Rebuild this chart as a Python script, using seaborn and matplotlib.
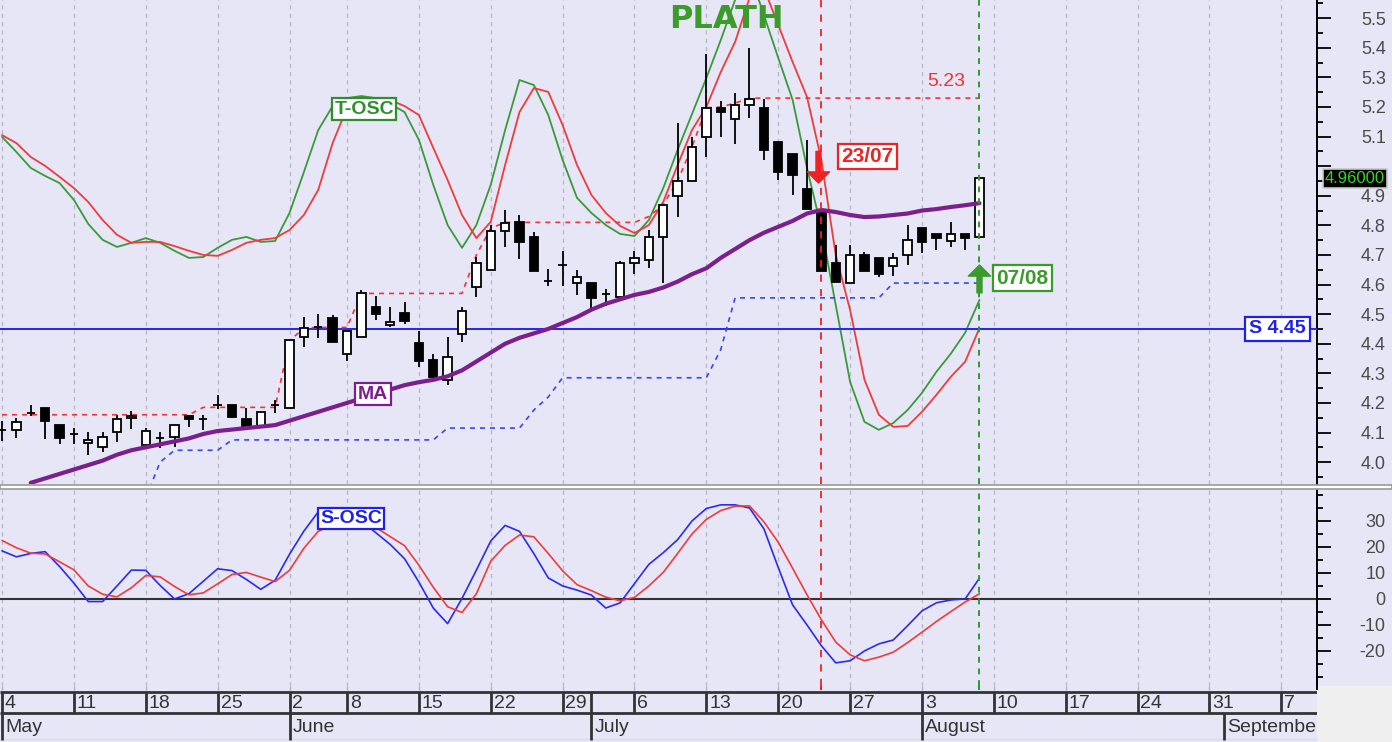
import numpy as np
import pandas as pd
import matplotlib
matplotlib.use('Agg')
import matplotlib.pyplot as plt
import matplotlib.transforms as mtransforms
from matplotlib.patches import Rectangle, FancyArrowPatch
import seaborn as sns

nan = np.nan

# one value per trading day, 4 May .. 7 Aug 2020
open_ = [4.110, 4.109, 4.165, 4.183, 4.126, 4.095, 4.065, 4.051, 4.102, 4.150,
         4.058, 4.082, 4.085, 4.156, 4.146, 4.193, 4.193, 4.146, 4.120, 4.193,
         4.183, 4.423, 4.457, 4.487, 4.366, 4.423, 4.524, 4.463, 4.504, 4.403,
         4.345, 4.278, 4.433, 4.592, 4.650, 4.781, 4.810, 4.760, 4.612, 4.666,
         4.605, 4.605, 4.568, 4.558, 4.673, 4.683, 4.760, 4.899, 4.950, 5.100,
         5.197, 5.160, 5.207, 5.197, 5.080, 5.040, 4.923, 4.852, 4.673, 4.605,
         4.700, 4.690, 4.663, 4.700, 4.790, 4.770, 4.747, 4.770, 4.760]
high = [4.140, 4.150, 4.193, 4.183, 4.126, 4.115, 4.102, 4.102, 4.160, 4.173,
        4.115, 4.102, 4.126, 4.156, 4.160, 4.227, 4.193, 4.183, 4.170, 4.210,
        4.413, 4.490, 4.500, 4.497, 4.443, 4.580, 4.560, 4.524, 4.540, 4.443,
        4.366, 4.423, 4.524, 4.693, 4.800, 4.852, 4.835, 4.777, 4.653, 4.714,
        4.650, 4.605, 4.585, 4.680, 4.714, 4.784, 4.869, 5.146, 5.100, 5.380,
        5.220, 5.247, 5.400, 5.227, 5.080, 5.040, 5.090, 4.852, 4.734, 4.734,
        4.710, 4.690, 4.707, 4.800, 4.790, 4.770, 4.810, 4.770, 4.960]
low = [4.070, 4.082, 4.155, 4.078, 4.060, 4.060, 4.024, 4.035, 4.068, 4.112,
       4.058, 4.048, 4.051, 4.120, 4.109, 4.180, 4.150, 4.117, 4.117, 4.166,
       4.183, 4.390, 4.420, 4.406, 4.340, 4.423, 4.480, 4.457, 4.467, 4.320,
       4.278, 4.260, 4.406, 4.558, 4.650, 4.727, 4.686, 4.646, 4.595, 4.595,
       4.565, 4.514, 4.528, 4.558, 4.636, 4.656, 4.605, 4.828, 4.950, 5.030,
       5.100, 5.075, 5.163, 5.020, 4.953, 4.903, 4.855, 4.645, 4.610, 4.605,
       4.645, 4.625, 4.630, 4.666, 4.707, 4.717, 4.727, 4.717, 4.760]
close = [4.110, 4.136, 4.167, 4.140, 4.082, 4.095, 4.075, 4.085, 4.146, 4.156,
         4.105, 4.082, 4.126, 4.146, 4.146, 4.193, 4.153, 4.120, 4.170, 4.193,
         4.413, 4.453, 4.457, 4.406, 4.443, 4.570, 4.500, 4.474, 4.477, 4.340,
         4.288, 4.355, 4.510, 4.673, 4.781, 4.808, 4.744, 4.646, 4.612, 4.666,
         4.625, 4.555, 4.568, 4.673, 4.690, 4.760, 4.869, 4.950, 5.065, 5.197,
         5.183, 5.207, 5.227, 5.055, 4.980, 4.970, 4.855, 4.645, 4.610, 4.700,
         4.645, 4.636, 4.690, 4.750, 4.744, 4.757, 4.770, 4.757, 4.960]

ma = [nan, nan, 3.930, 3.945, 3.960, 3.975, 3.990, 4.005, 4.025, 4.040,
      4.050, 4.060, 4.070, 4.080, 4.095, 4.105, 4.110, 4.115, 4.120, 4.125,
      4.140, 4.155, 4.170, 4.185, 4.200, 4.215, 4.230, 4.245, 4.260, 4.270,
      4.278, 4.290, 4.310, 4.340, 4.370, 4.400, 4.420, 4.435, 4.450, 4.470,
      4.490, 4.515, 4.535, 4.550, 4.565, 4.575, 4.590, 4.610, 4.635, 4.655,
      4.690, 4.720, 4.750, 4.775, 4.795, 4.815, 4.840, 4.852, 4.845, 4.835,
      4.828, 4.830, 4.835, 4.840, 4.850, 4.855, 4.862, 4.868, 4.875]

stop_hi = [4.16, 4.16, 4.16, 4.16, 4.16, 4.16, 4.16, 4.16, 4.16, 4.16,
           4.16, 4.16, 4.16, 4.16, 4.185, 4.185, 4.185, 4.185, 4.185, 4.185,
           4.41, 4.453, 4.455, 4.455, 4.455, 4.57, 4.57, 4.57, 4.57, 4.57,
           4.57, 4.57, 4.57, 4.70, 4.79, 4.81, 4.81, 4.81, 4.81, 4.81,
           4.81, 4.81, 4.81, 4.81, 4.81, 4.83, 4.87, 4.95, 5.065, 5.197,
           5.20, 5.213, 5.23, 5.23, 5.23, 5.23, 5.23, 5.23, 5.23, 5.23,
           5.23, 5.23, 5.23, 5.23, 5.23, 5.23, 5.23, 5.23, 5.23]
stop_lo = [nan, nan, nan, nan, nan, nan, nan, nan, nan, nan,
           3.88, 4.00, 4.04, 4.04, 4.04, 4.04, 4.075, 4.075, 4.075, 4.075,
           4.075, 4.075, 4.075, 4.075, 4.075, 4.075, 4.075, 4.075, 4.075, 4.075,
           4.075, 4.115, 4.115, 4.115, 4.115, 4.115, 4.115, 4.176, 4.22, 4.285,
           4.285, 4.285, 4.285, 4.285, 4.285, 4.285, 4.285, 4.285, 4.285, 4.285,
           4.38, 4.555, 4.555, 4.555, 4.555, 4.555, 4.555, 4.555, 4.555, 4.555,
           4.555, 4.555, 4.605, 4.605, 4.605, 4.605, 4.605, 4.605, 4.605]

# T-OSC, drawn on the price scale
tosc_fast = [5.099, 5.048, 4.994, 4.967, 4.943, 4.886, 4.805, 4.751, 4.727, 4.741,
             4.757, 4.741, 4.714, 4.690, 4.693, 4.724, 4.751, 4.761, 4.744, 4.747,
             4.842, 4.980, 5.122, 5.203, 5.230, 5.237, 5.230, 5.210, 5.183, 5.089,
             4.937, 4.801, 4.724, 4.801, 4.937, 5.122, 5.291, 5.274, 5.173, 5.021,
             4.893, 4.842, 4.801, 4.771, 4.764, 4.818, 4.926, 5.055, 5.176, 5.298,
             5.426, 5.562, 5.656, 5.511, 5.366, 5.224, 4.994, 4.791, 4.531, 4.271,
             4.136, 4.109, 4.132, 4.176, 4.234, 4.305, 4.366, 4.437, 4.548]
tosc_slow = [5.105, 5.078, 5.031, 5.001, 4.964, 4.926, 4.879, 4.818, 4.768, 4.741,
             4.744, 4.744, 4.730, 4.714, 4.700, 4.697, 4.717, 4.741, 4.751, 4.757,
             4.784, 4.835, 4.920, 5.078, 5.197, 5.224, 5.230, 5.224, 5.203, 5.173,
             5.062, 4.953, 4.835, 4.757, 4.812, 5.004, 5.183, 5.264, 5.251, 5.139,
             5.004, 4.903, 4.842, 4.798, 4.774, 4.801, 4.879, 5.004, 5.122, 5.200,
             5.318, 5.420, 5.568, 5.602, 5.477, 5.352, 5.234, 5.021, 4.700, 4.514,
             4.278, 4.160, 4.119, 4.122, 4.170, 4.227, 4.288, 4.339, 4.453]

# S-OSC, lower panel
sosc_fast = [18.5, 16.2, 17.5, 18.2, 12.5, 6.1, -1.0, -1.0, 5.0, 11.1,
             11.0, 5.2, 0.0, 2.0, 6.8, 11.6, 10.9, 7.5, 3.7, 7.2,
             17.2, 26.1, 33.5, 34.5, 33.5, 30.0, 25.5, 21.0, 15.5, 6.5,
             -3.5, -9.5, 0.2, 11.1, 22.3, 28.3, 26.0, 17.4, 8.1, 5.0,
             3.4, 1.5, -3.5, -1.5, 5.9, 13.3, 17.8, 22.8, 30.0, 34.8,
             36.2, 36.2, 35.0, 27.0, 12.1, -2.3, -10.0, -18.0, -24.6, -23.8,
             -20.0, -17.3, -15.8, -10.3, -4.6, -1.5, -0.4, 0.0, 8.0]
sosc_slow = [22.5, 19.7, 17.6, 17.3, 14.3, 11.2, 5.0, 1.8, 0.8, 4.3,
             9.0, 8.5, 4.8, 1.6, 2.3, 5.8, 9.4, 10.2, 8.4, 6.7,
             11.0, 19.5, 26.0, 28.5, 29.5, 29.0, 27.5, 24.0, 20.5, 13.0,
             4.5, -3.0, -5.2, 2.0, 14.5, 20.6, 24.6, 23.9, 17.5, 10.8,
             5.5, 3.2, 0.7, -0.7, 0.6, 5.0, 10.2, 17.5, 25.0, 30.6,
             34.0, 35.7, 35.8, 29.7, 21.8, 11.8, 1.6, -8.0, -16.6, -21.5,
             -23.8, -22.4, -20.5, -16.8, -12.8, -8.7, -4.9, -1.2, 2.0]

support = 4.45
price_ticks = [4.0, 4.1, 4.2, 4.3, 4.4, 4.5, 4.6, 4.7, 4.8, 4.9, 5.0, 5.1, 5.2, 5.3, 5.4, 5.5]
osc_ticks = [-20, -10, 0, 10, 20, 30]
sell_day = '2020-07-23'
buy_day = '2020-08-07'

# trading calendar (Whit Monday closed)
cal = pd.bdate_range('2020-05-04', '2020-09-11')
cal = cal[cal != pd.Timestamp('2020-06-01')]
pos = np.arange(len(cal))
wd = np.asarray(cal.weekday)
mo = np.asarray(cal.month)
week_start = pos[np.r_[True, wd[1:] < wd[:-1]]]
month_start = pos[np.r_[True, mo[1:] != mo[:-1]]]
sell_i = int(np.where(cal == pd.Timestamp(sell_day))[0][0])
buy_i = int(np.where(cal == pd.Timestamp(buy_day))[0][0])

n = len(close)
idx = np.arange(n)
o, h, l, c = map(np.array, (open_, high, low, close))

sns.set_style('white')
plt.rcParams['font.family'] = ['Liberation Sans', 'DejaVu Sans']
plt.rcParams['axes.unicode_minus'] = False

BG = '#e6e6f7'
W, H = 1392, 742
RIGHT = 1317
fig = plt.figure(figsize=(W / 100, H / 100), dpi=100, facecolor=BG)


def box(top, bottom, left=0, right=RIGHT):
    return [left / W, 1 - bottom / H, (right - left) / W, (bottom - top) / H]


ax = fig.add_axes(box(0, 484))
ax2 = fig.add_axes(box(489, 686))
axd = fig.add_axes(box(686, 742, 0, W))

xlim = (-0.14, 91.48)
GRID = dict(color='#b9b9c4', lw=1.0, ls=(0, (3, 3)), zorder=1)

for a in (ax, ax2):
    a.set_facecolor(BG)
    a.set_xlim(*xlim)
    for w in week_start:
        a.axvline(w, **GRID)
    for s in ('left', 'top', 'bottom'):
        a.spines[s].set_visible(False)
    a.spines['right'].set_color('black')
    a.spines['right'].set_linewidth(1.4)
    a.set_xticks([])
    a.yaxis.tick_right()
    a.tick_params(axis='y', which='major', length=10, width=1.3, pad=39.5,
                  labelsize=13, labelcolor='#4a4a4a', color='black')
    a.tick_params(axis='y', which='minor', length=4, width=1.3, color='black')
    a.axvline(sell_i, color='#ee2222', lw=1.3, ls=(0, (4, 4)), zorder=7)
    a.axvline(buy_i, color='#2e9a2e', lw=1.4, ls=(0, (3, 3)), zorder=7)

# ---- price panel
ax.set_ylim(3.926, 5.5615)
ax.set_yticks(price_ticks)
ax.set_yticks(np.arange(3.95, 5.56, 0.05), minor=True)
# the last-price box sits where the nearest label would be
ax.yaxis.set_major_formatter(lambda v, p: '' if abs(v - c[-1]) < 0.05 else f'{v:.1f}')

sns.lineplot(x=idx, y=tosc_fast, ax=ax, color='#3a9a3a', lw=1.3, zorder=2)
sns.lineplot(x=idx, y=tosc_slow, ax=ax, color='#ef3b3b', lw=1.3, zorder=2)
ax.axhline(support, color='#2424f2', lw=1.4, zorder=3)
sns.lineplot(x=idx, y=stop_hi, ax=ax, color='#ef3333', lw=1.2, ls=(0, (3, 3)), zorder=3)
sns.lineplot(x=idx, y=pd.Series(stop_lo), ax=ax, color='#3a46ee', lw=1.2, ls=(0, (3, 3)), zorder=3)

up = c >= o
ax.vlines(idx, l, h, color='black', lw=1.3, zorder=4)
ax.bar(idx, np.abs(c - o), bottom=np.minimum(o, c), width=0.58,
       color=np.where(up, 'white', 'black'), edgecolor='black', lw=1.3, zorder=5)

sns.lineplot(x=idx, y=pd.Series(ma), ax=ax, color='#7b1e8e', lw=3, zorder=6)


def tag(a, x, y, s, color, size=14, pad=0.12, **kw):
    a.text(x, y, s, color=color, fontsize=size, fontweight='bold', ha='center', va='center',
           bbox=dict(boxstyle=f'square,pad={pad}', fc='white', ec=color, lw=1.6), zorder=9, **kw)


tag(ax, 25.2, 5.193, 'T-OSC', '#2f8f2f')
tag(ax, 25.8, 4.23, 'MA', '#7b1e8e', pad=0.15)
tag(ax, 60.2, 5.033, sell_day[8:] + '/' + sell_day[5:7], '#ee2222', size=15, pad=0.15)
tag(ax, 71.0, 4.622, buy_day[8:] + '/' + buy_day[5:7], '#3a9a2a', size=15, pad=0.15)
blend = mtransforms.blended_transform_factory(ax.transAxes, ax.transData)
tag(ax, 0.970, support, f'S {support:.2f}', '#1f1fee', pad=0.2, transform=blend)
ax.text(1355 / RIGHT, c[-1], f'{c[-1]:.5f}', transform=blend, color='#3ad22a', fontsize=12,
        ha='center', va='center', clip_on=False, zorder=9,
        bbox=dict(boxstyle='square,pad=0.12', fc='black', ec='#c8c8c8', lw=1.2))
ax.annotate(f'{stop_hi[-1]:.2f}', xy=(65.7, stop_hi[-1]), xytext=(0, 6), textcoords='offset points',
            color='#ee3333', fontsize=14, ha='center', va='bottom')

arrow = 'simple,head_width=1.6,head_length=0.8,tail_width=0.36'
ax.add_patch(FancyArrowPatch((sell_i - 0.2, 5.050), (sell_i - 0.2, 4.943), arrowstyle=arrow,
                             mutation_scale=10, color='#ee2222', shrinkA=0, shrinkB=0, zorder=8))
ax.add_patch(FancyArrowPatch((buy_i, 4.572), (buy_i, 4.666), arrowstyle=arrow,
                             mutation_scale=10, color='#3a9a2a', shrinkA=0, shrinkB=0, zorder=8))

# ---- oscillator panel
ax2.set_ylim(-33.5, 42.3)
ax2.set_yticks(osc_ticks)
ax2.set_yticks(np.arange(-30, 41, 5), minor=True)
ax2.axhline(0, color='#333333', lw=1.5, zorder=2)
sns.lineplot(x=idx, y=sosc_fast, ax=ax2, color='#2b2bf0', lw=1.2, zorder=3)
sns.lineplot(x=idx, y=sosc_slow, ax=ax2, color='#ef3b3b', lw=1.2, zorder=3)
tag(ax2, 24.3, 30.8, 'S-OSC', '#1f1fee', pad=0.1)

for a in (ax, ax2):
    a.set_ylabel('')
    for lbl in a.get_yticklabels():
        lbl.set_horizontalalignment('right')

# ---- date bar
xr = (xlim[1] - xlim[0]) * W / RIGHT
axd.set_xlim(xlim[0], xlim[0] + xr)
axd.set_ylim(742, 686)
axd.set_facecolor('white')
axd.axis('off')
axd.add_patch(Rectangle((xlim[0], 686), xlim[1] - xlim[0], 6, fc=BG, ec='none'))
axd.vlines(week_start, 686, 690, color='#b0b0b8', lw=1)
axd.vlines([sell_i], 686, 690, color='#ee2222', lw=1.5)
axd.vlines([buy_i], 686, 690, color='#2e9a2e', lw=1.5)
axd.hlines([692, 713], xlim[0], xlim[1], color='#333333', lw=2)
axd.hlines([739], xlim[0], xlim[1], color='#dddddd', lw=1)
row1 = sorted(set(week_start) | {month_start[2]})
axd.vlines(row1, 692, 713, color='#333333', lw=2)
axd.vlines(month_start, 713, 740, color='#333333', lw=2)
for w in week_start:
    if w < xlim[1]:
        axd.text(w + 0.2, 703, str(cal[w].day), fontsize=14, color='#333333', ha='left', va='center')
for m in month_start:
    axd.text(m + 0.2, 727, cal[m].strftime('%B'), fontsize=14, color='#333333', ha='left', va='center')
axd.add_patch(Rectangle((xlim[1], 686), xr, 56, fc='#efefef', ec='none', zorder=5))
axd.vlines([xlim[1]], 686, 690, color='black', lw=1.4, zorder=6)

# separator between panels
fig.add_artist(Rectangle((0, 1 - 489 / H), 1, 4.5 / H, fc='white', ec='#9a9a9a', lw=1.2,
                         transform=fig.transFigure))

fig.text(726 / W, 1 - 19 / H, 'PLATH', fontsize=23, fontweight='bold', color='#3d9b2c',
         family='DejaVu Sans', ha='center', va='center')

fig.savefig('out.png', dpi=100, facecolor=BG)
